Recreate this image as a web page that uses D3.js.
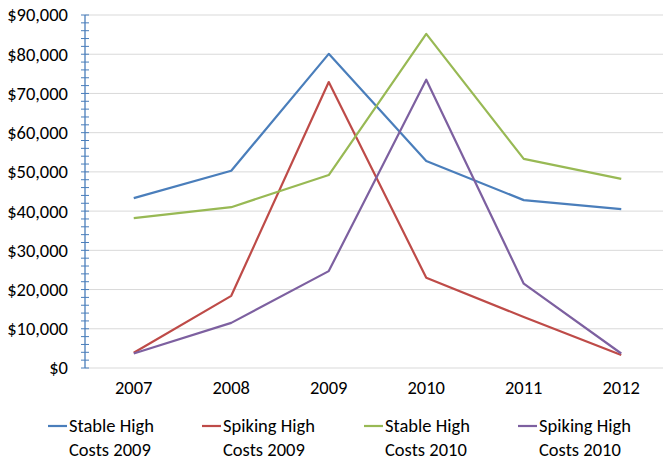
<!DOCTYPE html>
<html><head><meta charset="utf-8">
<script src="https://d3js.org/d3.v7.min.js"></script>
<style>
body{margin:0;background:#fff;}
svg{display:block;font-family:Carlito,"Liberation Sans",Arial,sans-serif;}
</style></head><body>
<svg id="c" width="663" height="462"></svg>
<script>
const categories = ["2007","2008","2009","2010","2011","2012"];
const seriesNames = ["Stable High Costs 2009","Spiking High Costs 2009","Stable High Costs 2010","Spiking High Costs 2010"];
const stable2009 = [43300, 50300, 80100, 52800, 42800, 40500];
const spiking2009 = [3900, 18400, 72900, 23000, 13000, 3300];
const stable2010 = [38200, 41000, 49200, 85200, 53300, 48200];
const spiking2010 = [3700, 11500, 24700, 73500, 21500, 3700];
const yTicks = [0,10000,20000,30000,40000,50000,60000,70000,80000,90000];
const colors = ["#4A7EBB","#BE4B48","#98B954","#7D60A0"];
const legendLines = [["Stable High","Costs 2009"],["Spiking High","Costs 2009"],["Stable High","Costs 2010"],["Spiking High","Costs 2010"]];
const allSeries = [stable2009, spiking2009, stable2010, spiking2010];

(function(){
const svg = d3.select("#c");
const mLeft = 85, mTop = 15, mBottom = 368, plotW = 585;
const fs = 18.5;
const x = d3.scaleBand().domain(categories).range([mLeft, mLeft+plotW]);
const y = d3.scaleLinear().domain([0,90000]).range([mBottom, mTop]);

svg.append("g").selectAll("line").data(yTicks.filter(d=>d>0)).join("line")
  .attr("x1", mLeft).attr("x2", mLeft+plotW)
  .attr("y1", d=>y(d)).attr("y2", d=>y(d))
  .attr("stroke","#D9D9D9").attr("stroke-width",1);

svg.append("line").attr("x1", mLeft).attr("x2", mLeft+plotW)
  .attr("y1", y(0)).attr("y2", y(0)).attr("stroke","#D9D9D9").attr("stroke-width",1);

const minor = d3.range(0, 90001, 2000);
const ya = svg.append("g");
ya.append("line").attr("x1", mLeft).attr("x2", mLeft).attr("y1", y(0)).attr("y2", y(90000))
  .attr("stroke","#4A7EBB").attr("stroke-width",1.3);
ya.selectAll("line.t").data(minor).join("line").attr("class","t")
  .attr("x1", mLeft-4).attr("x2", mLeft+4)
  .attr("y1", d=>y(d)).attr("y2", d=>y(d))
  .attr("stroke","#4A7EBB").attr("stroke-width",1);
const fmt = d3.format("$,");
ya.selectAll("text").data(yTicks).join("text")
  .attr("x", 68).attr("y", d=>y(d)).attr("dy","0.35em")
  .attr("text-anchor","end").attr("font-size",fs).attr("fill","#000")
  .text(d=>fmt(d));

svg.append("g").selectAll("text").data(categories).join("text")
  .attr("x", d=>x(d)+x.bandwidth()/2).attr("y", 388).attr("dy","0.35em")
  .attr("text-anchor","middle").attr("font-size",fs).attr("fill","#000")
  .text(d=>d);

const line = d3.line().x((d,i)=>x(categories[i])+x.bandwidth()/2).y(d=>y(d));
svg.append("g").selectAll("path").data(allSeries).join("path")
  .attr("d", d=>line(d)).attr("fill","none")
  .attr("stroke",(d,i)=>colors[i]).attr("stroke-width",2.2)
  .attr("stroke-linejoin","round");

const legX = [48, 202, 364, 518];
const lg = svg.append("g").selectAll("g").data(seriesNames).join("g")
  .attr("transform",(d,i)=>`translate(${legX[i]},0)`);
lg.append("line").attr("x1",0).attr("x2",19).attr("y1",426).attr("y2",426)
  .attr("stroke",(d,i)=>colors[i]).attr("stroke-width",2.2);
lg.append("text").attr("x",21).attr("y",426).attr("dy","0.35em")
  .attr("font-size",fs).text((d,i)=>legendLines[i][0]);
lg.append("text").attr("x",21).attr("y",450).attr("dy","0.35em")
  .attr("font-size",fs).text((d,i)=>legendLines[i][1]);
})();
</script>
</body></html>
